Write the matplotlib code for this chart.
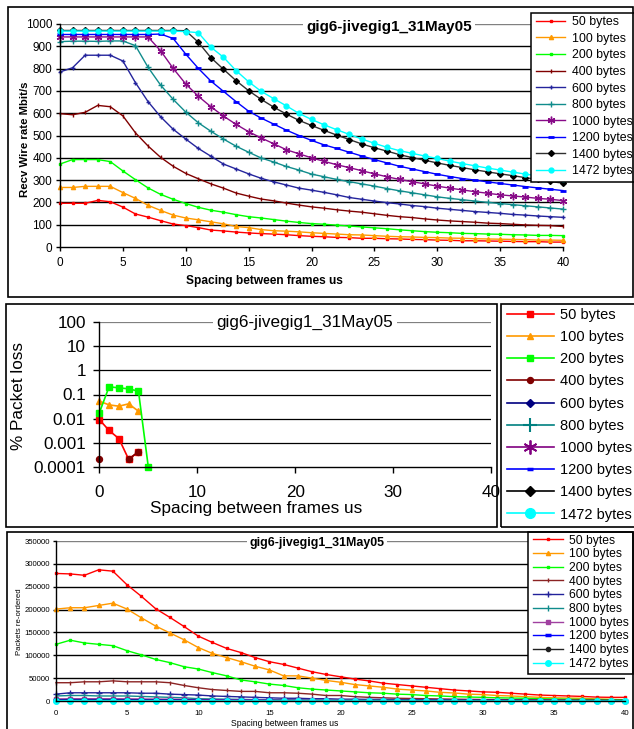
import numpy as np
import matplotlib
matplotlib.use("Agg")
import matplotlib.pyplot as plt
from matplotlib.patches import Rectangle
from matplotlib.ticker import FixedLocator, FixedFormatter, NullLocator

plt.rcParams['font.family'] = ['Liberation Sans', 'DejaVu Sans']

# ---------------- data ----------------
spacing = list(range(41))
labels = ['50 bytes', '100 bytes', '200 bytes', '400 bytes', '600 bytes',
          '800 bytes', '1000 bytes', '1200 bytes', '1400 bytes', '1472 bytes']
title_text = 'gig6-jivegig1_31May05'
xlabel_text = 'Spacing between frames us'

# Panel 1: received wire rate, Mbit/s
rate_50 = [196, 196, 196, 209, 203, 179, 148, 134, 118, 103, 96, 87, 76, 72, 67, 63, 60, 58, 55, 51,
           48, 46, 43, 42, 39, 39, 37, 36, 34, 33, 31, 30, 28, 28, 27, 26, 25, 24, 24, 22, 22]
rate_100 = [267, 267, 272, 272, 272, 244, 218, 187, 164, 143, 130, 122, 113, 104, 92, 87, 78, 73, 71, 68,
            64, 61, 58, 55, 54, 51, 48, 46, 45, 43, 42, 40, 39, 37, 36, 35, 34, 33, 31, 31, 30]
rate_200 = [372, 392, 392, 392, 383, 341, 302, 265, 236, 214, 195, 178, 165, 156, 145, 136, 130, 123, 116, 110,
            105, 102, 98, 94, 90, 86, 82, 77, 73, 69, 66, 64, 61, 60, 58, 57, 55, 54, 52, 52, 51]
rate_400 = [598, 593, 604, 635, 629, 588, 512, 453, 402, 362, 330, 306, 283, 264, 242, 228, 215, 207, 197, 188,
            180, 174, 167, 161, 156, 149, 142, 136, 132, 126, 121, 117, 114, 111, 107, 105, 102, 99, 97, 96, 92]
rate_600 = [785, 804, 860, 860, 860, 834, 737, 652, 584, 528, 484, 442, 407, 372, 350, 328, 308, 292, 278, 264,
            255, 245, 234, 222, 214, 206, 199, 193, 186, 181, 174, 169, 164, 159, 155, 151, 146, 143, 139, 136, 133]
rate_800 = [921, 923, 923, 922, 924, 924, 903, 806, 726, 662, 605, 557, 519, 484, 452, 425, 399, 381, 361, 345,
            327, 315, 303, 293, 283, 273, 262, 252, 243, 234, 225, 218, 212, 206, 200, 195, 190, 185, 180, 175, 170]
rate_1000 = [942, 942, 942, 942, 942, 942, 942, 942, 880, 801, 731, 676, 629, 587, 550, 517, 489, 463, 436, 418,
             400, 384, 369, 356, 342, 328, 315, 303, 293, 283, 273, 264, 256, 248, 241, 234, 229, 224, 218, 214, 208]
rate_1200 = [953, 953, 953, 953, 953, 953, 953, 953, 955, 935, 865, 801, 744, 698, 652, 609, 578, 551, 524, 500,
             478, 458, 442, 425, 408, 392, 377, 362, 350, 338, 326, 316, 307, 300, 292, 285, 278, 271, 265, 259, 253]
rate_1400 = [971, 971, 971, 971, 971, 971, 971, 971, 971, 971, 970, 918, 849, 797, 746, 701, 662, 627, 596, 568,
             545, 523, 502, 482, 462, 445, 430, 414, 401, 389, 377, 366, 356, 346, 337, 328, 320, 311, 303, 294, 286]
rate_1472 = [968, 968, 968, 968, 968, 968, 968, 968, 968, 968, 966, 961, 896, 851, 791, 741, 698, 665, 633, 599,
             572, 548, 526, 505, 484, 465, 447, 432, 420, 408, 397, 385, 374, 364, 354, 345, 336, 327, 319, 312, 305]

# Panel 2: % packet loss (losses only seen at the smallest spacings)
loss_spacing = [0, 1, 2, 3, 4, 5]
nan = np.nan
loss_50 = [0.0091, 0.0032, 0.00147, 0.000202, 0.000422, nan]
loss_100 = [0.0527, 0.037, 0.0327, 0.0409, 0.0202, nan]
loss_200 = [0.0172, 0.209, 0.189, 0.172, 0.137, 0.0001]
loss_400 = [0.000202, nan, nan, 0.000202, 0.000422, nan]
loss_600 = [nan, nan, nan, nan, nan, nan]
loss_800 = [nan, nan, nan, nan, nan, nan]
loss_1000 = [nan, nan, nan, nan, nan, nan]
loss_1200 = [nan, nan, nan, nan, nan, nan]
loss_1400 = [nan, nan, nan, nan, nan, nan]
loss_1472 = [nan, nan, nan, nan, nan, nan]

# Panel 3: packets re-ordered
reord_50 = [279000, 278000, 275000, 287000, 284000, 254000, 229000, 202000, 183000, 163000, 142000, 128000,
            115000, 106000, 95000, 86000, 80000, 72000, 64000, 58000, 53000, 48000, 44000, 39000, 36000, 33000,
            30000, 27000, 24000, 22000, 20000, 19000, 17000, 15000, 13000, 12000, 11000, 10000, 8500, 8000, 8000]
reord_100 = [201000, 204000, 204000, 209000, 214000, 201000, 182000, 164000, 149000, 134000, 117000, 104000,
             95000, 86000, 76000, 68000, 55000, 55000, 50000, 45000, 41000, 36000, 33000, 30000, 26000, 24000,
             22000, 19000, 17500, 15000, 14000, 12000, 11000, 9500, 8000, 7000, 6500, 6000, 4500, 3600, 3000]
reord_200 = [124000, 133000, 127000, 124000, 121000, 110000, 101000, 91000, 84000, 75000, 70000, 62000,
             55000, 46000, 42000, 37000, 34000, 29000, 26000, 24000, 22000, 20000, 18000, 17000, 15000, 14000,
             12000, 11000, 9500, 8700, 8000, 7000, 6500, 6000, 5000, 4400, 4000, 3600, 3300, 3000, 2700]
reord_400 = [40000, 40000, 42000, 42000, 44000, 42000, 42000, 42000, 40000, 34000, 29000, 25000, 23000, 21000,
             21000, 18000, 18000, 17000, 15000, 12000, 12000, 9500, 8000, 7000, 6000, 5500, 5000, 4500, 4000,
             3600, 3300, 3000, 2800, 2600, 2400, 2200, 2000, 1900, 1800, 1600, 1500]
reord_600 = [15000, 18000, 18000, 18000, 18000, 18000, 17000, 17000, 15000, 14000, 13000, 11000, 10000, 9000,
             8000, 7000, 6000, 6000, 5000, 5000, 4000, 4000, 3500, 3500, 3000, 3000, 2800, 2600, 2400, 2200,
             2000, 2000, 1800, 1700, 1600, 1500, 1400, 1300, 1200, 1100, 1000]
reord_800 = [11000, 12000, 12000, 11000, 11000, 11000, 10000, 9000, 8000, 7000, 5000, 4500, 4000, 3500, 3000,
             2800, 2600, 2400, 2200, 2000, 1800, 1700, 1600, 1500, 1400, 1300, 1200, 1100, 1000, 900, 850, 800,
             750, 700, 650, 600, 550, 500, 500, 450, 400]
reord_1000 = [4500, 5000, 5000, 5000, 5000, 4800, 4500, 4200, 4000, 3500, 3000, 2700, 2400, 2200, 2000, 1800,
              1600, 1500, 1400, 1300, 1200, 1100, 1000, 950, 900, 850, 800, 750, 700, 650, 600, 580, 560, 540,
              520, 500, 480, 460, 440, 420, 400]
reord_1200 = [2500, 3000, 3000, 3000, 3000, 2800, 2600, 2400, 2200, 2000, 1800, 1600, 1400, 1300, 1200, 1100,
              1000, 950, 900, 850, 800, 750, 700, 650, 600, 580, 560, 540, 520, 500, 480, 460, 440, 420, 400,
              380, 360, 340, 320, 300, 300]
reord_1400 = [1500, 1800, 1800, 1800, 1800, 1700, 1600, 1500, 1400, 1300, 1200, 1100, 1000, 900, 800, 750, 700,
              650, 600, 550, 500, 480, 460, 440, 420, 400, 380, 360, 340, 320, 300, 290, 280, 270, 260, 250, 240,
              230, 220, 210, 200]
reord_1472 = [800, 1000, 1000, 1000, 1000, 900, 850, 800, 750, 700, 650, 600, 550, 500, 450, 420, 400, 380, 360,
              340, 320, 300, 280, 260, 240, 230, 220, 210, 200, 190, 180, 170, 160, 150, 140, 130, 120, 110, 100,
              100, 100]

rate_series = [rate_50, rate_100, rate_200, rate_400, rate_600, rate_800, rate_1000, rate_1200, rate_1400, rate_1472]
loss_series = [loss_50, loss_100, loss_200, loss_400, loss_600, loss_800, loss_1000, loss_1200, loss_1400, loss_1472]
reord_series = [reord_50, reord_100, reord_200, reord_400, reord_600, reord_800, reord_1000, reord_1200,
                reord_1400, reord_1472]

rate_ticks = [0, 100, 200, 300, 400, 500, 600, 700, 800, 900, 1000]
loss_ticks = [0.0001, 0.001, 0.01, 0.1, 1, 10, 100]
loss_tick_labels = ['0.0001', '0.001', '0.01', '0.1', '1', '10', '100']
reord_ticks = [0, 50000, 100000, 150000, 200000, 250000, 300000, 350000]

# ---------------- styles ----------------
ASTER = (6, 2, 0)
style1 = [
    dict(color='#FF0000', marker='s', ms=2),
    dict(color='#FF9900', marker='^', ms=3),
    dict(color='#00FF00', marker='s', ms=2),
    dict(color='#800000', marker='|', ms=3),
    dict(color='#24249C', marker='+', ms=3.5),
    dict(color='#108C8C', marker='+', ms=5),
    dict(color='#880A88', marker=ASTER, ms=5.5),
    dict(color='#0000FF', marker='_', ms=4, mew=2),
    dict(color='#303030', marker='D', ms=3, mfc='black', mec='black'),
    dict(color='#00FFFF', marker='o', ms=3.5),
]
style2 = [
    dict(color='#FF0000', marker='s', ms=4.3),
    dict(color='#FF9900', marker='^', ms=5),
    dict(color='#00FF00', marker='s', ms=4.3),
    dict(color='#800000', marker='o', ms=4.3),
    dict(color='#000080', marker='D', ms=4),
    dict(color='#008080', marker='+', ms=10, mew=1.5),
    dict(color='#800080', marker=ASTER, ms=10, mew=1.3),
    dict(color='#0000FF', marker='_', ms=5, mew=2.5),
    dict(color='#000000', marker='D', ms=5.5),
    dict(color='#00FFFF', marker='o', ms=7),
]
style3 = [
    dict(color='#FF0000', marker='s', ms=1.6),
    dict(color='#FF9900', marker='^', ms=3),
    dict(color='#00FF00', marker='s', ms=1.6),
    dict(color='#8B2323', marker='|', ms=3),
    dict(color='#22229A', marker='+', ms=4),
    dict(color='#108C8C', marker='|', ms=5),
    dict(color='#A040A0', marker='s', ms=3.5),
    dict(color='#0000FF', marker='_', ms=5, mew=2.5),
    dict(color='#202020', marker='o', ms=3),
    dict(color='#00FFFF', marker='o', ms=4),
]

W, H = 634, 729
fig = plt.figure(figsize=(W / 100, H / 100), dpi=100)
fig.patch.set_facecolor('white')


def fx(px):
    return px / W


def fy(py):
    return 1 - py / H


def rect_axes(l, t, r, b):
    return [fx(l), fy(b), (r - l) / W, (b - t) / H]


def box(l, t, r, b, lw=1.1, parent=None, z=1, fill=False):
    rc = Rectangle((fx(l), fy(b)), (r - l) / W, (b - t) / H, transform=fig.transFigure,
                   fill=fill, facecolor='white', edgecolor='black', lw=lw, zorder=z, clip_on=False)
    if parent is None:
        fig.add_artist(rc)
    else:
        parent.add_artist(rc)
    return rc


def style_axes(ax, ticklen, tickpad_x, tickpad_y, fs):
    for s in ['top', 'right']:
        ax.spines[s].set_visible(False)
    for s in ['left', 'bottom']:
        ax.spines[s].set_color('black')
        ax.spines[s].set_linewidth(1.0)
        ax.spines[s].set_zorder(3)
    ax.tick_params(axis='both', which='major', direction='out', length=ticklen, width=1.0,
                   color='black', labelsize=fs, labelcolor='black')
    ax.tick_params(axis='x', pad=tickpad_x)
    ax.tick_params(axis='y', pad=tickpad_y)
    ax.tick_params(which='minor', length=0)
    ax.set_facecolor('white')


# ================= Panel 1 =================
box(8, 7, 633, 297, lw=1.2)
ax1 = fig.add_axes(rect_axes(60, 24, 563, 247))
for vals, st, lab in zip(rate_series, style1, labels):
    ax1.plot(spacing, vals, lw=1.0, label=lab, clip_on=False, zorder=2, **st)
ax1.set_xlim(0, 40)
ax1.set_ylim(0, 1000)
ax1.set_xticks([0, 5, 10, 15, 20, 25, 30, 35, 40])
ax1.set_yticks(rate_ticks)
for v in rate_ticks[1:]:
    ax1.axhline(v, color='#808080' if v == 1000 else 'black', lw=1.0, zorder=1)
style_axes(ax1, 3, 4.5, 2.5, 8.5)
box(531, 13, 645, 182, lw=1.1, parent=ax1, z=4.9, fill=True)
ax1.legend(loc='upper left', bbox_to_anchor=(fx(535), fy(15)), bbox_transform=fig.transFigure,
           frameon=False, fontsize=8.9, borderaxespad=0, borderpad=0.1, labelspacing=0.37,
           handlelength=2.35, handletextpad=0.55, numpoints=1)
fig.text(fx(389), fy(27), title_text, ha='center', va='center', fontsize=11, fontweight='bold',
         bbox=dict(facecolor='white', edgecolor='none', pad=2.2), zorder=5)
fig.text(fx(264), fy(281), xlabel_text, ha='center', va='center', fontsize=8.6, fontweight='bold')
fig.text(fx(25), fy(139), 'Recv Wire rate Mbit/s', ha='center', va='center', rotation=90,
         fontsize=8.2, fontweight='bold')

# ================= Panel 2 =================
box(6, 304, 497, 527, lw=1.2)
box(501, 304, 645, 527, lw=1.2)
ax2 = fig.add_axes(rect_axes(99.3, 322.3, 491, 466.7))
ax2.set_yscale('log')
for vals, st, lab in zip(loss_series, style2, labels):
    ax2.plot(loss_spacing, vals, lw=1.2, label=lab, clip_on=False, zorder=2, **st)
ax2.set_xlim(0, 40)
ax2.set_ylim(1e-4, 100)
ax2.set_xticks([0, 10, 20, 30, 40])
ax2.yaxis.set_major_locator(FixedLocator(loss_ticks))
ax2.yaxis.set_major_formatter(FixedFormatter(loss_tick_labels))
ax2.yaxis.set_minor_locator(NullLocator())
for v in loss_ticks[1:]:
    ax2.axhline(v, color='#808080' if v == 100 else 'black', lw=0.9, zorder=1)
style_axes(ax2, 4, 9, 5.5, 12.3)
ax2.legend(loc='upper left', bbox_to_anchor=(fx(507), fy(308)), bbox_transform=fig.transFigure,
           frameon=False, fontsize=10.5, borderaxespad=0, borderpad=0.0, labelspacing=0.56,
           handlelength=3.2, handletextpad=0.4, numpoints=1)
fig.text(fx(305), fy(322), title_text, ha='center', va='center', fontsize=12.3,
         bbox=dict(facecolor='white', edgecolor='none', pad=2.5), zorder=5)
fig.text(fx(256), fy(509), xlabel_text, ha='center', va='center', fontsize=12.3)
fig.text(fx(19), fy(396), '% Packet loss', ha='center', va='center', rotation=90, fontsize=12.3)

# ================= Panel 3 =================
box(7, 532, 633, 745, lw=1.2)
ax3 = fig.add_axes(rect_axes(56, 541, 625, 701))
for vals, st, lab in zip(reord_series, style3, labels):
    ax3.plot(spacing, vals, lw=1.0, label=lab, clip_on=False, zorder=2, **st)
ax3.set_xlim(0, 40)
ax3.set_ylim(0, 350000)
ax3.set_xticks([0, 5, 10, 15, 20, 25, 30, 35, 40])
ax3.set_yticks(reord_ticks)
ax3.yaxis.set_major_formatter(FixedFormatter([str(v) for v in reord_ticks]))
for v in reord_ticks[1:]:
    ax3.axhline(v, color='#808080' if v == 350000 else 'black', lw=1.0, zorder=1)
style_axes(ax3, 2.5, 4, 1.5, 5.6)
box(528, 532, 633, 674, lw=1.1, parent=ax3, z=4.9, fill=True)
ax3.legend(loc='upper left', bbox_to_anchor=(fx(532), fy(534)), bbox_transform=fig.transFigure,
           frameon=False, fontsize=8.7, borderaxespad=0, borderpad=0.05, labelspacing=0.14,
           handlelength=2.5, handletextpad=0.5, numpoints=1)
fig.text(fx(317), fy(543), title_text, ha='center', va='center', fontsize=8.9, fontweight='bold',
         bbox=dict(facecolor='white', edgecolor='none', pad=2.0), zorder=5)
fig.text(fx(285), fy(723), xlabel_text, ha='center', va='center', fontsize=6.2)
fig.text(fx(20), fy(622), 'Packets re-ordered', ha='center', va='center', rotation=90, fontsize=5.6)

fig.savefig('out.png', dpi=100, facecolor='white')
